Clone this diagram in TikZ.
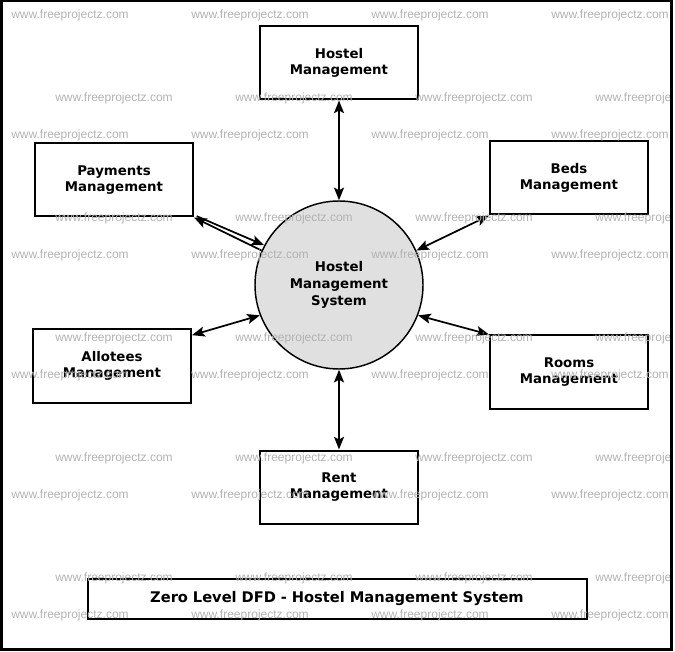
\documentclass[tikz,border=0pt]{standalone}
\usepackage{fontspec}
\setmainfont{DejaVu Sans}
\newfontfamily\wmfont{Liberation Sans}
\usetikzlibrary{shapes.geometric, arrows.meta}
\tikzstyle{process} = [rectangle, minimum width=118.5pt, minimum height=54.75pt, text centered, text width=110pt, draw=black, line width=1.5pt, font=\bfseries\fontsize{10}{12}\selectfont]
\tikzstyle{hub} = [circle, minimum size=126pt, text centered, text width=90pt, draw=black, line width=1.1pt, fill=black!12, font=\bfseries\fontsize{10}{12.75}\selectfont]
\tikzstyle{arrow} = [line width=1.3pt,<->,>={Stealth[length=9.5pt,width=7.5pt,inset=2pt]}]
\tikzstyle{wmtext} = [text=black!30, inner sep=0pt, font=\wmfont\fontsize{9}{9}\selectfont]

\begin{document}
\begin{tikzpicture}[x=0.75pt, y=-0.75pt]
			\useasboundingbox (0,0) rectangle (675,652);
			\node(hms)[hub] at (339,285) {Hostel\\Management\\System};
			\node(hostel)[process, above of=hms, node distance=166.5pt]{Hostel\\Management};
			\node(payments)[process, left of=hms, node distance=168.75pt, yshift=78.75pt]{Payments\\Management};
			\node(beds)[process, right of=hms, node distance=172.5pt, yshift=80.25pt]{Beds\\Management};
			\node(allotees)[process, left of=hms, node distance=170.25pt, yshift=-60.75pt]{Allotees\\Management};
			\node(rooms)[process, right of=hms, node distance=172.5pt, yshift=-65.25pt]{Rooms\\Management};
			\node(rent)[process, below of=hms, node distance=151.5pt]{Rent\\Management};
			\node(title)[process, below of=hms, node distance=235.5pt, xshift=-1.5pt, minimum width=374.25pt, minimum height=30pt, text width=360pt, font=\bfseries\fontsize{11}{13}\selectfont]{Zero Level DFD - Hostel Management System};

			\draw [arrow] (hostel) -- (hms);
			\draw [arrow] (rent) -- (hms);
			\draw [arrow, ->] ([xshift=2pt, yshift=1pt]payments.south east) -- (hms.152);
			\draw [arrow, <-] (payments.south east) -- (hms.156);
			\draw [arrow] (beds.south west) -- (hms.24);
			\draw [arrow] ([yshift=-5pt]allotees.north east) -- (hms.201);
			\draw [arrow] (rooms.north west) -- (hms.-21);
			% Labels
			\begin{scope}
				\clip (3,2) rectangle (670,648);
				\foreach \y in {15,135,...,615}
					\foreach \x in {70,250,...,610}
						\node(wm-\x-\y)[wmtext] at (\x,\y) {www.freeprojectz.com};
				\foreach \y in {98,218,...,578}
					\foreach \x in {114,294,...,654}
						\node(wm-\x-\y)[wmtext] at (\x,\y) {www.freeprojectz.com};
			\end{scope}
			\draw [line width=2.25pt] (1.5,1) rectangle (671,649.5);
		\end{tikzpicture}
\end{document}
